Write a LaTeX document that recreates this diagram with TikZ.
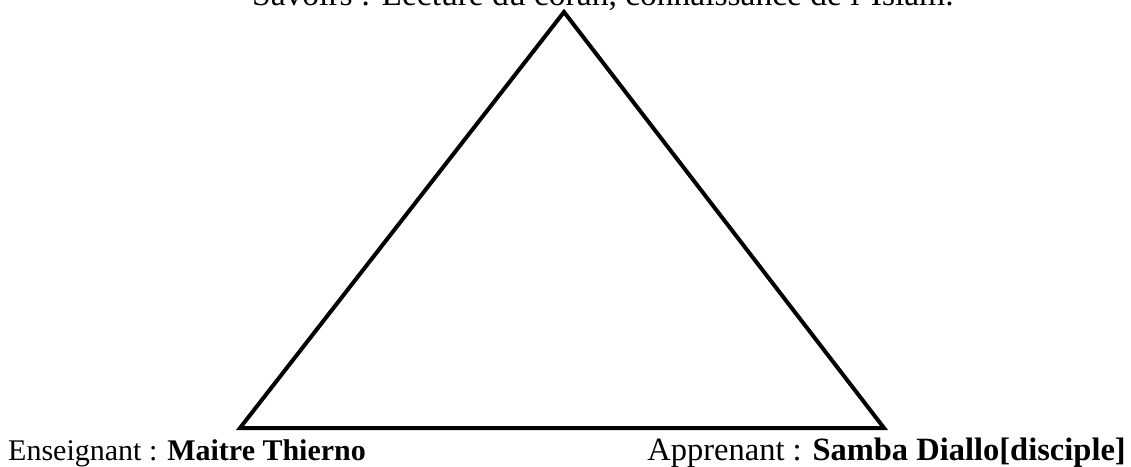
\documentclass[tikz,border=0pt]{standalone}
\usepackage{fontspec}
\setmainfont{Liberation Serif}
\begin{document}
\begin{tikzpicture}[x=1pt,y=-1pt,
  lbl/.style={inner sep=0pt,font=\fontsize{30}{34}\selectfont}]
\useasboundingbox (0,0) rectangle (1131,466);
\clip (0,0) rectangle (1131,466);
\coordinate (a) at (564,12);
\coordinate (l) at (240,428);
\coordinate (r) at (884,428);
\draw[line width=4pt,line join=miter] (a) -- (l) -- (r) -- cycle;
\node[lbl,anchor=base west,font=\fontsize{33.5}{38}\selectfont] (t) at (252,5) {Savoirs : Lecture du coran, connaissance de l'Islam.};
\node[lbl,anchor=base west] (e) at (8,460) {Enseignant : \textbf{Maitre Thierno}};
\node[lbl,anchor=base east,font=\fontsize{32.5}{36}\selectfont] (s) at (1126,460) {Apprenant : \textbf{Samba Diallo[disciple]}};
\end{tikzpicture}
\end{document}
